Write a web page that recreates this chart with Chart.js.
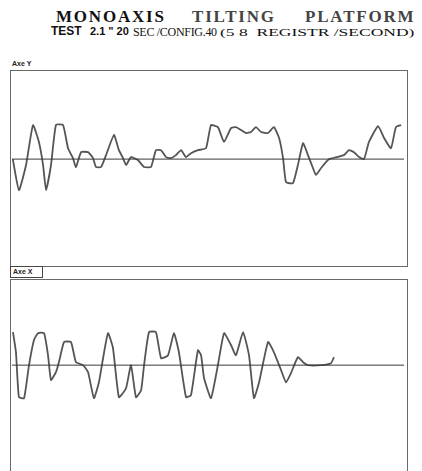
<!DOCTYPE html>
<html>
<head>
<meta charset="utf-8">
<script src="https://cdn.jsdelivr.net/npm/chart.js@4.4.0/dist/chart.umd.min.js"></script>
<style>
  html, body { margin: 0; padding: 0; background: #fff; width: 422px; height: 471px; overflow: hidden; }
  body { position: relative; }
  .t { position: absolute; white-space: nowrap; color: #111; line-height: 1; }
  .w1 { font-family: "Liberation Serif", serif; font-weight: bold; font-size: 17px; letter-spacing: 1.8px; top: 8px; }
  .panel { position: absolute; left: 10px; width: 396px; border: 1.5px solid #6a6a6a; box-sizing: content-box; }
  .lbl { position: absolute; font-family: "Liberation Sans", sans-serif; font-weight: bold; font-size: 7px; color: #222; }
</style>
</head>
<body>
<div class="t w1" style="left:56px;">MONOAXIS</div>
<div class="t w1" style="left:192px;color:#444;">TILTING</div>
<div class="t w1" style="left:305px;color:#444;">PLATFORM</div>
<div class="t" style="left:51px;top:25px;font-family:'Liberation Sans',sans-serif;font-weight:bold;font-size:12px;">TEST</div>
<div class="t" style="left:90px;top:26px;font-family:'Liberation Sans',sans-serif;font-weight:bold;font-size:11px;">2.1 " 20</div>
<div class="t" style="left:133px;top:25.5px;font-family:'Liberation Serif',serif;font-size:12px;letter-spacing:-0.3px;">SEC /CONFIG.40</div>
<div class="t" style="left:220px;top:27.5px;font-family:'Liberation Serif',serif;font-size:10px;transform:scaleX(1.75);transform-origin:left top;">(5 8 &nbsp;REGISTR /SECOND)</div>

<div class="lbl" style="left:12px;top:60px;">Axe Y</div>
<div class="panel" style="top:70px;height:195px;"><canvas id="c1" width="396" height="195"></canvas></div>

<div class="lbl" style="left:10px;top:266px;width:29px;height:10px;border:1px solid #444;padding-left:2px;line-height:10px;">Axe X</div>
<div class="panel" style="top:279px;height:200px;"><canvas id="c2" width="396" height="200"></canvas></div>

<script>
// time (s) and amplitude
const timeY = [0.09,0.40,0.76,1.11,1.41,1.62,1.77,2.02,2.27,2.63,2.88,3.13,3.28,3.54,3.89,4.14,4.29,4.55,4.80,5.20,5.45,5.66,5.81,6.06,6.41,6.72,7.07,7.32,7.58,7.83,8.08,8.33,8.59,8.84,9.09,9.44,9.85,10.10,10.45,10.76,11.11,11.36,11.62,11.87,12.12,12.37,12.63,12.98,13.28,13.54,13.74,13.89,14.24,14.49,14.75,15.00,15.25,15.40,15.66,15.91,16.06,16.82,17.07,17.32,17.58,17.83,18.08,18.54,18.84,19.19,19.44,19.70];
const axisY = [0,-0.94,-0.18,1.03,0.52,-0.18,-0.94,-0.18,1.03,1.03,0.33,0.03,-0.24,0.21,0.21,0.03,-0.24,-0.24,0.12,0.73,0.27,0.03,-0.18,0.06,-0.03,-0.24,-0.24,0.27,0.27,0.06,0.03,0.12,0.27,0.06,0.18,0.27,0.33,1.03,0.97,0.52,0.94,0.97,0.88,0.79,0.82,0.97,0.82,0.79,0.97,0.64,0.03,-0.70,-0.73,-0.18,0.48,0.12,-0.27,-0.48,-0.27,-0.09,0,0.12,0.27,0.21,0.06,0,0.52,1.00,0.64,0.33,0.97,1.03];

const timeX = [0.10,0.25,0.40,0.66,0.91,1.16,1.36,1.67,1.87,2.02,2.27,2.42,2.68,3.03,3.28,3.64,3.89,4.19,4.44,4.65,4.90,5.15,5.45,5.81,6.06,6.31,6.57,6.72,6.97,7.32,7.58,7.93,8.23,8.48,8.84,9.09,9.44,9.60,9.75,10.10,10.45,10.76,11.11,11.36,11.72,12.02,12.27,12.53,12.98,13.28,13.64,13.89,14.14,14.49,14.75,15.00,15.66,16.16,16.31];
const axisX = [1.00,0.39,-0.97,-1.00,0,0.76,0.97,0.97,0.30,-0.45,-0.21,0.09,0.70,0.70,0.09,0,-0.21,-1.00,-0.52,0.21,0.97,0.52,-0.97,-0.70,0,-0.97,-0.76,0,1.00,1.00,0.21,0.30,0.97,0.39,-0.97,-0.91,0.45,0.30,-0.39,-1.00,0,0.97,0.61,0.30,1.00,0.30,-1.00,-0.52,0.70,0.39,-0.15,-0.52,-0.24,0.24,0.09,0,0,0.06,0.24];

const zeroSpan = [0.05, 19.85];

function pts(xs, ys) { return xs.map((x, i) => ({ x: x, y: ys[i] })); }

function makeChart(id, xs, ys, ymin, ymax) {
  new Chart(document.getElementById(id), {
    type: 'line',
    data: {
      datasets: [
        {
          data: zeroSpan.map(x => ({ x: x, y: 0 })),
          borderColor: '#3a3a3a', borderWidth: 1, pointRadius: 0, tension: 0
        },
        {
          data: pts(xs, ys),
          borderColor: '#555', borderWidth: 1.8, pointRadius: 0, tension: 0.15
        }
      ]
    },
    options: {
      responsive: false, animation: false,
      layout: { padding: 0 },
      plugins: { legend: { display: false }, tooltip: { enabled: false } },
      scales: {
        x: { type: 'linear', min: 0, max: 20, display: false },
        y: { min: ymin, max: ymax, display: false }
      }
    }
  });
}

makeChart('c1', timeY, axisY, -3.24, 2.67);
makeChart('c2', timeX, axisX, -3.48, 2.58);
</script>
</body>
</html>
